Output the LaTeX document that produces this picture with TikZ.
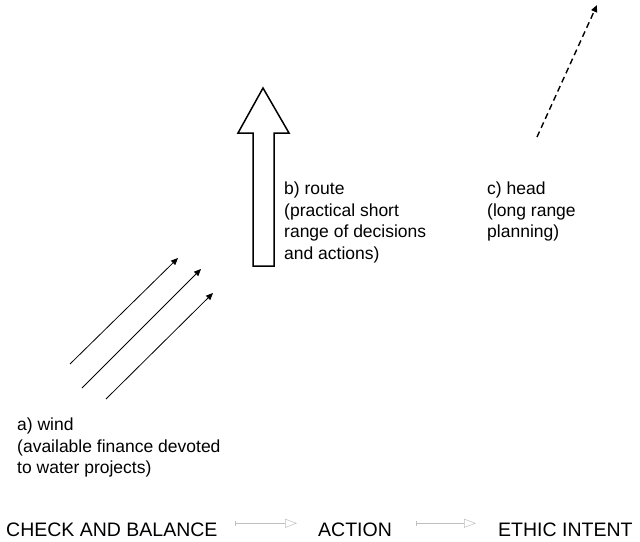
\documentclass[tikz,border=0pt]{standalone}
\usepackage{fontspec}
\setmainfont{Liberation Sans}
\usetikzlibrary{arrows.meta}

\tikzset{
	txt/.style = {anchor = north west, align = left, inner sep = 0pt, font = \fontsize{17.5}{21.5}\selectfont},
	rowtxt/.style = {anchor = base west, inner sep = 0pt, font = \fontsize{19.5}{24}\selectfont},
	windarrow/.style = {line width = 0.8pt, -{Triangle[length = 7pt, width = 6pt]}},
	flow/.style = {gray!50, line width = 0.5pt, {Bar[width = 5pt]}-{Triangle[open, length = 12pt, width = 9pt]}}
}

\begin{document}
\begin{tikzpicture}[x = 1pt, y = -1pt]
			\useasboundingbox (0, 0) rectangle (640, 541);
			% labels
			\node[txt] (wind) at (17, 418) {a) wind\\(available finance devoted\\to water projects)};
			\node[txt] (route) at (284, 182) {b) route\\(practical short\\range of decisions\\and actions)};
			\node[txt] (head) at (487, 182) {c) head\\(long range\\planning)};
			% wind
			\foreach \sx/\sy/\ex/\ey in {70/364/178/258, 82/388/201/269, 106/399/213/293}
			{
				\coordinate (ws) at (\sx, \sy);
				\coordinate (we) at (\ex, \ey);
				\draw[windarrow] (ws) -- (we);
			}
			% route
			\draw[line width = 1.5pt, line join = miter] (253, 266) -- (253, 133) -- (238, 133) -- (263, 88)
				-- (289, 133) -- (274, 133) -- (274, 266) -- cycle;
			% head
			\coordinate (hs) at (537, 137);
			\coordinate (he) at (597, 5);
			\draw[line width = 1.4pt, dash pattern = on 6pt off 4pt, -{Triangle[length = 7pt, width = 6pt]}] (hs) -- (he);
			% bottom row
			\node[rowtxt] (check) at (6, 536) {CHECK AND BALANCE};
			\node[rowtxt] (action) at (318, 536) {ACTION};
			\node[rowtxt] (ethic) at (498, 536) {ETHIC INTENT};
			\draw[flow] ([xshift = 17pt, yshift = 6pt]check.east) -- ([xshift = -21pt, yshift = 6pt]action.west);
			\draw[flow] ([xshift = 24pt, yshift = 6pt]action.east) -- ([xshift = -22pt, yshift = 6pt]ethic.west);
\end{tikzpicture}
\end{document}
